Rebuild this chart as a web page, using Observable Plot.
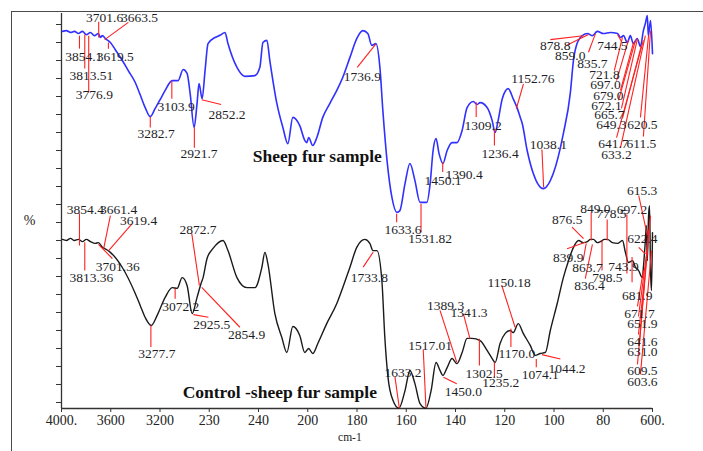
<!DOCTYPE html>
<html>
<head>
<meta charset="utf-8">
<script src="https://cdn.jsdelivr.net/npm/d3@7"></script>
<script src="https://cdn.jsdelivr.net/npm/@observablehq/plot@0.6"></script>
<style>
  html, body { margin: 0; padding: 0; background: #fff; }
  #wrap { position: relative; width: 703px; height: 451px; overflow: hidden; background: #fff; }
  #box { position: absolute; left: 11px; top: 11px; width: 720px; height: 470px; border: 1.5px solid #4a4a4a; pointer-events: none; }
</style>
</head>
<body>
<div id="wrap"><div id="box"></div></div>
<script>
// ---- x axis (wavenumber, cm-1) ----
const xTickValues = [4000, 3600, 3200, 2800, 2400, 2000, 1800, 1600, 1400, 1200, 1000, 800, 600];
const xTickLabels = ["4000.", "3600", "3200", "230", "240", "200", "180", "160", "140", "120", "100", "80", "600."];
const yTicks = d3.range(0, 110, 5);

// ---- Sheep fur sample (blue) ----
const sheepWn = [3992,3960,3927,3895,3862,3830,3798,3765,3733,3700,3684,3668,3644,3603,3563,3506,3458,3401,3360,3320,3279,3239,3198,3158,3101,3053,3012,2980,2955,2923,2899,2883,2858,2834,2810,2753,2713,2672,2648,2575,2510,2429,2389,2364,2332,2308,2251,2202,2162,2121,2065,2024,2008,1996,1980,1963,1939,1910,1882,1858,1829,1801,1776,1756,1740,1723,1707,1695,1678,1658,1638,1626,1605,1585,1565,1544,1516,1503,1491,1479,1467,1451,1434,1414,1394,1373,1353,1328,1312,1300,1271,1251,1239,1227,1210,1186,1166,1149,1137,1129,1109,1084,1044,1003,962,934,921,905,885,864,844,824,799,771,742,730,718,702,690,678,662,649,637,629,621,617,608,600];
const sheepT = [103.1,103.3,102.8,103.1,102.5,103.1,102.2,102.8,101.9,102.5,101.4,101.9,101.1,100,98,95,92.2,88.9,85.4,81.9,79.4,81.7,84.2,86.7,89.4,89.4,92.5,91.4,85.8,76.4,83.1,88.6,84.4,92.2,99.7,101.4,102,102.8,99.7,93.1,90.6,90.8,93.1,100,100.6,95,83.1,76.4,71.9,79.2,76.9,72.8,72.2,73.6,71.4,73.6,79.2,83.1,86.7,90.3,95.8,101.1,103.3,102.5,99.2,99.7,93.1,81.1,67.2,56.9,52.8,53.3,60.8,66.4,61.7,55.6,55.6,60.8,70,73.3,69.2,66.4,70,72.2,72.2,75.6,81.9,83.6,82.8,83.3,81.9,78.3,75,78.3,84.4,87.2,84.4,81.7,79.2,77.5,70,63.6,59.4,63.6,74.7,85.8,95,100,101.9,102.5,101.9,103.1,102.5,102.8,102.5,101.4,101.9,100,101.9,99.7,101.1,98.9,103.3,105.3,107.5,101.9,106.1,96.9];

// ---- Control - sheep fur sample (black) ----
const controlWn = [3992,3960,3927,3895,3862,3830,3798,3765,3725,3700,3668,3636,3603,3506,3401,3360,3320,3271,3223,3158,3101,3061,3020,2980,2939,2899,2866,2850,2818,2769,2688,2648,2575,2494,2429,2373,2348,2324,2267,2211,2170,2121,2065,2024,1996,1980,1959,1923,1882,1858,1829,1801,1768,1748,1735,1719,1699,1687,1674,1654,1630,1605,1585,1565,1544,1520,1499,1479,1463,1451,1434,1414,1394,1373,1353,1333,1300,1271,1251,1239,1219,1198,1178,1166,1145,1125,1096,1076,1056,1035,1015,987,962,941,921,900,881,864,852,840,824,811,795,783,763,742,722,710,698,681,669,657,641,637,629,625,621,616,612,608,604,600];
const controlT = [45.3,45,45.6,45,45.3,44.7,45.3,44.7,44.2,44.4,43.1,42.5,41.7,37.5,30.3,26.9,23.6,21.4,24.2,29.2,31.9,31.7,34.7,32.5,24.7,29.2,33.1,34.7,40,42.8,45,42.2,34.7,31.9,31.9,37.5,41.7,38.6,24.7,18.1,13.9,21.1,18.6,13.9,15,13.6,16.4,21.9,27.5,31.9,37.5,43.1,45.3,44.2,42.2,42.2,33.9,18.1,6.9,0.6,-1.6,3.3,8.9,5.3,-0.3,-1.6,3.3,11.1,8.9,7.5,9.7,12.2,10.8,13.9,17.8,17.8,17.2,14.4,12.2,11.1,16.4,19.2,20,19.4,21.9,19.2,15.8,13.1,13.6,13.9,20,27.5,34.7,39.4,43.1,45,44.4,44.7,45.3,45.3,44.4,44.7,45.3,45.3,44.4,44.2,45,41.7,38.9,39.4,37.5,36.7,34.7,37.5,45,49.2,39.4,51.9,54.7,36.7,31.1,47.2];

// ---- Peak labels: [text, labelX, labelY, leaderX1, leaderY1, leaderX2, leaderY2] (wavenumber, %T) ----
const sheepPeaks = [
  ["3701.6", 3650, 106.9, 3698, 101.4, 3698, 105.8],
  ["3663.5", 3367, 106.9, 3649, 100.8, 3457, 105.6],
  ["3854.1", 3819, 96.1, 3854, 101.9, 3854, 98.3],
  ["3619.5", 3563, 96.1, 3619, 100, 3619, 98.3],
  ["3813.51", 3757, 90.8, 3811, 102.2, 3811, 92.8],
  ["3776.9", 3733, 85.6, 3779, 101.9, 3779, 86.1],
  ["3282.7", 3231, 74.7, 3279, 79.4, 3279, 76.4],
  ["3103.9", 3069, 82.3, 3104, 89.4, 3104, 84.4],
  ["2921.7", 2883, 69.2, 2921, 76.4, 2921, 70.8],
  ["2852.2", 2656, 80, 2861, 84.1, 2704, 82.8],
  ["1736.9", 1778, 90.6, 1723, 99.6, 1799, 93.1],
  ["1633.6", 1613, 48, 1639, 52.4, 1639, 50.1],
  ["1531.82", 1503, 45.5, 1540, 55.2, 1540, 47.3],
  ["1450.1", 1451, 61.5, 1452, 66.8, 1452, 64],
  ["1390.4", 1365, 63.3, null, null, null, null],
  ["1309.2", 1288, 76.9, 1316, 83.4, 1316, 79.3],
  ["1236.4", 1219, 69.1, 1242, 76, 1242, 71.4],
  ["1152.76", 1086, 89.9, 1153, 81.6, 1124, 88.5],
  ["1038.1", 1023, 71.7, 1042, 59.8, 1049, 70.3],
  ["878.8", 995, 99, 881, 101.9, 1015, 100.8],
  ["859.0", 934, 96.4, 860, 102.2, 950, 99.2],
  ["835.7", 844, 94.1, 832, 102.4, 860, 97.3],
  ["744.5", 763, 99, 742, 102.2, 726, 100.3],
  ["721.8", 795, 91.1, 722, 101.4, 755, 92.2],
  ["697.0", 791, 88.3, 698, 100.6, 746, 89.4],
  ["679.0", 779, 85.3, 677, 100, 730, 86.7],
  ["672.1", 787, 82.5, 669, 100.6, 738, 83.9],
  ["665.7", 775, 80, 661, 101.1, 726, 81.7],
  ["649.3", 767, 77.2, 645, 99.2, 722, 78.9],
  ["620.5", 641, 77.2, 616, 101.9, 649, 79.2],
  ["641.7", 759, 71.9, 637, 100.6, 746, 73.6],
  ["611.5", 645, 71.9, 608, 103.3, 637, 73.9],
  ["633.2", 746, 68.9, 629, 101.9, 730, 70.8]
];
const controlPeaks = [
  ["3854.4", 3806, 53.5, 3854, 43.6, 3854, 52.5],
  ["3661.4", 3536, 53.5, 3658, 42.7, 3603, 51.9],
  ["3619.4", 3374, 50.6, 3617, 42.2, 3428, 49.6],
  ["3701.36", 3543, 37.6, 3700, 43.9, 3587, 40],
  ["3813.36", 3757, 34.8, 3811, 44.5, 3811, 36.7],
  ["3277.7", 3225, 13.7, 3274, 21.4, 3274, 15.4],
  ["3072.2", 3031, 26.7, 3077, 31.6, 3077, 28.8],
  ["2872.7", 2891, 48, 2880, 32.5, 2942, 46.9],
  ["2925.5", 2780, 21.7, 2929, 24.4, 2807, 23.7],
  ["2854.9", 2496, 18.9, 2861, 32, 2551, 20.9],
  ["1733.8", 1750, 34.8, 1734, 41.8, 1775, 37.6],
  ["1633.2", 1613, 8.4, 1628, -1.6, 1646, 7.2],
  ["1517.01", 1503, 15.8, 1520, -1.5, 1531, 14.7],
  ["1450.0", 1368, 2.9, 1449, 7, 1395, 5.2],
  ["1389.3", 1440, 26.9, 1395, 11.2, 1463, 25.6],
  ["1341.3", 1345, 24.9, 1341, 17.7, 1368, 24.6],
  ["1302.5", 1284, 8.1, 1303, 17.7, 1303, 10.3],
  ["1235.2", 1216, 5.5, 1242, 11.2, 1242, 7],
  ["1150.18", 1182, 33.4, 1158, 20.9, 1212, 32.5],
  ["1170.0", 1151, 13.5, 1175, 20.5, 1175, 15.4],
  ["1074.1", 1056, 7.8, 1072, 12.1, 1072, 9.8],
  ["1044.2", 947, 9.5, 1049, 13.3, 974, 12.1],
  ["876.5", 946, 50.8, 880, 45.5, 927, 48.7],
  ["849.0", 832, 53.8, 849, 45, 849, 52.8],
  ["778.5", 767, 52.4, 784, 45, 784, 50.8],
  ["697.2", 683, 53.6, 704, 35.8, 704, 52.2],
  ["615.3", 642, 58.9, 621, 46.4, 656, 57.5],
  ["622.4", 641, 45.5, 629, 41.3, 656, 43.1],
  ["839.9", 942, 40.2, 873, 44.5, 947, 42.7],
  ["863.7", 864, 37.4, 869, 44.2, 882, 39.4],
  ["836.4", 856, 32.5, 844, 43.9, 873, 34.4],
  ["798.5", 783, 34.8, 805, 45, 805, 36.7],
  ["743.9", 718, 37.6, null, null, null, null],
  ["681.9", 662, 29.7, 683, 40.4, 683, 33.4],
  ["671.7", 653, 24.6, 637, 36.7, 661, 26.7],
  ["651.9", 641, 21.9, 625, 40.8, 657, 23.9],
  ["641.6", 641, 16.8, 633, 33.9, 657, 18.9],
  ["631.0", 641, 14, 616, 47.8, 653, 16.1],
  ["609.5", 641, 8.7, 608, 51.9, 661, 10.6],
  ["603.6", 641, 5.9, 604, 42.2, 649, 7.8]
];

const sampleTitles = [
  {text: "Sheep fur sample", wn: 1961, t: 68.3},
  {text: "Control -sheep fur sample", wn: 2227, t: 2.9}
];

// The instrument axis changes scale at 2000 cm-1 (400 cm-1 per division above, 200 below)
const pos = wn => wn >= 2000 ? (4000 - wn) / 400 : 5 + (2000 - wn) / 200;

const sheep = sheepWn.map((w, i) => ({wn: w, t: sheepT[i]}));
const control = controlWn.map((w, i) => ({wn: w, t: controlT[i]}));
const allLabels = [...sheepPeaks, ...controlPeaks];
const leaders = allLabels.filter(d => d[3] != null);

const yMin = -1.67, yMax = 108.06;
const serif = "'Liberation Serif', 'Times New Roman', serif";

const chart = Plot.plot({
  width: 703,
  height: 451,
  marginLeft: 61, marginRight: 51, marginTop: 13, marginBottom: 43,
  x: {domain: [pos(4000), pos(600)]},
  y: {domain: [yMin, yMax]},
  style: {fontFamily: serif, fontSize: "13px", background: "transparent", color: "#222", overflow: "visible"},
  marks: [
    Plot.ruleX([pos(4000)], {y1: yMin, y2: yMax, stroke: "#333", strokeWidth: 1.3}),
    Plot.ruleY([yMin], {x1: pos(4000), x2: pos(600), stroke: "#333", strokeWidth: 1.3}),
    Plot.axisY({ticks: yTicks, tickFormat: () => "", tickSize: 5, label: null, anchor: "left", stroke: "#333"}),
    Plot.axisX({ticks: xTickValues.map(pos), tickFormat: (d, i) => xTickLabels[i], tickSize: 4, tickPadding: 3, fontSize: 14, label: null, anchor: "bottom", stroke: "#333", fill: "#222"}),
    Plot.line(sheep, {x: d => pos(d.wn), y: "t", stroke: "#3030ff", strokeWidth: 1.6, curve: "monotone-x"}),
    Plot.line(control, {x: d => pos(d.wn), y: "t", stroke: "#1a1a1a", strokeWidth: 1.4, curve: "monotone-x"}),
    Plot.link(leaders, {x1: d => pos(d[3]), y1: d => d[4], x2: d => pos(d[5]), y2: d => d[6], stroke: "#ff2020", strokeWidth: 1.1}),
    Plot.text(allLabels, {x: d => pos(d[1]), y: d => d[2], text: d => d[0], fontSize: 13.5, fill: "#1e1e28"}),
    Plot.text(sampleTitles, {x: d => pos(d.wn), y: "t", text: "text", fontSize: 17.5, fontWeight: "bold", fill: "#111"}),
    Plot.text(["%"], {x: pos(4000), y: 50.6, dx: -32, text: d => d, fontSize: 14, fill: "#222"}),
    Plot.text(["cm-1"], {x: pos(1829), y: yMin, dy: 29, text: d => d, fontSize: 11.5, fill: "#222"})
  ]
});
document.getElementById("wrap").insertBefore(chart, document.getElementById("box"));
chart.style.position = "absolute";
chart.style.left = "0";
chart.style.top = "0";
</script>
</body>
</html>
